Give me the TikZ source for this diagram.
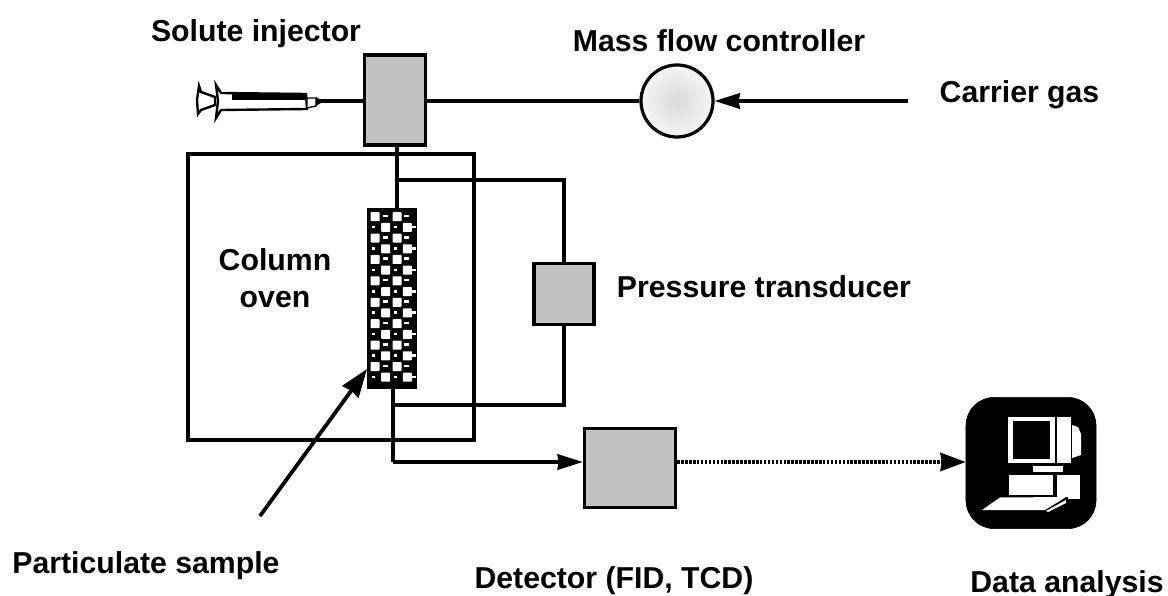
\documentclass[tikz,border=0pt]{standalone}
\usepackage{fontspec}
\setmainfont{Liberation Sans}
\usetikzlibrary{arrows.meta}
\tikzset{
    unit/.style={draw=black, line width=2.3pt, fill=gray!48, inner sep=0pt},
    pipe/.style={black, line width=2.3pt},
    tag/.style={font=\fontsize{21.5}{26.5}\selectfont\bfseries, align=center, inner sep=0pt, anchor=base},
    flow/.style={pipe, -{Stealth[length=18pt, width=11pt, inset=1pt]}}
}
\begin{document}
\begin{tikzpicture}[x=0.025cm, y=-0.025cm]
    \useasboundingbox (0, 0) rectangle (1168, 596);
    \fill[white] (0, 0) rectangle (1168, 596);

    % Column oven
    \node[draw=black, line width=2.3pt, minimum width=7.15cm, minimum height=7.15cm, inner sep=0pt] (oven) at (331, 297) {};

    % Main units
    \node[unit, minimum width=1.53cm, minimum height=2.25cm] (injector) at (395, 100) {};
    \node[unit, circle, inner color=gray!30, outer color=gray!8, minimum size=1.8cm] (controller) at (677, 101) {};
    \node[unit, minimum width=1.5cm, minimum height=1.53cm] (transducer) at (564, 294) {};
    \node[unit, minimum width=2.28cm, minimum height=1.98cm] (detector) at (630, 468) {};

    % Packed column
    \node[fill=black, minimum width=1.25cm, minimum height=4.5cm, inner sep=0pt] (column) at (392, 298.5) {};
    \foreach \row in {0,2,...,14} {
        \foreach \xa in {375, 397} {
            \fill[white, rounded corners=0.5pt] (\xa-4.5, 216.7+\row*10.7-4.5) rectangle (\xa+4.5, 216.7+\row*10.7+4.5);
        }
        \foreach \xb in {385.7, 406} {
            \fill[white] (\xb-2.5, 216.7+\row*10.7-2) rectangle (\xb+2.5, 216.7+\row*10.7+0.5);
        }
    }
    \foreach \row in {1,3,...,15} {
        \foreach \xa in {385.7, 407.3} {
            \fill[white, rounded corners=0.5pt] (\xa-4.5, 216.7+\row*10.7-4.5) rectangle (\xa+4.5, 216.7+\row*10.7+4.5);
        }
        \foreach \xb in {373.5, 395.5, 414} {
            \fill[white] (\xb-1.8, 216.7+\row*10.7-1.5) rectangle (\xb+1.8, 216.7+\row*10.7+1);
        }
    }

    % Syringe
    \draw[black, line width=1.7pt, fill=white] (199, 86) -- (201, 92) -- (215, 97) -- (215, 105) -- (201, 110) -- (198, 114) -- (197, 100) -- cycle;
    \draw[black, line width=1.7pt, fill=white] (216, 85) -- (221, 93) -- (306, 94) -- (307, 109) -- (221, 110) -- (216, 118) -- (218, 101) -- cycle;
    \fill[black] (232, 93) rectangle (306, 100);
    \draw[black, line width=1pt, fill=white] (307, 98) -- (316, 98) -- (316, 106) -- (307, 108) -- cycle;
    \coordinate (needle) at (320, 101);
    \fill[black] (316, 97) -- (321, 100) -- (321, 103) -- (316, 106) -- cycle;

    % Computer
    \node[draw=black, fill=black, rounded corners=20pt, minimum width=3.25cm, minimum height=3.28cm, inner sep=0pt] (computer) at (1031, 463) {};
    \fill[white] (1008, 417) rectangle (1055, 463);
    \fill[black] (1013, 421) rectangle (1050, 459);
    \fill[white] (1057, 417) rectangle (1071, 463);
    \fill[white] (1072, 425) -- (1078, 427) -- (1081, 434) -- (1081, 455) -- (1072, 458) -- cycle;
    \fill[white] (1033, 466) rectangle (1063, 472);
    \fill[white] (1009, 475) rectangle (1053, 495);
    \fill[white] (1057, 475) rectangle (1080, 499);
    \fill[black] (1055, 497) rectangle (1068, 501);
    \fill[white] (982, 510) -- (1000, 497.5) -- (1066, 497) -- (1045, 510) -- cycle;
    \fill[white] (1046, 511) -- (1066, 500) -- (1066, 503) -- (1048, 512) -- cycle;

    % Free ends and bends of the pipes
    \coordinate (gasin) at (908, 101);
    \coordinate (branch) at (397, 180);
    \coordinate (rejoin) at (393, 405);
    \coordinate (bend) at (393, 462);
    \coordinate (samplefoot) at (260, 516);
    \coordinate (sampletip) at (367, 369);

    % Pipes
    \draw[pipe] (needle) -- (needle -| injector.west);
    \draw[pipe] (injector.east |- controller) -- (controller.west);
    \draw[flow] (gasin) -- (controller.east);
    \draw[pipe] (branch |- injector.south) -- (branch |- column.north);
    \draw[pipe] (branch) -| (transducer.north);
    \draw[pipe] (transducer.south) |- (rejoin);
    \draw[pipe] (rejoin |- column.south) -- (bend);
    \draw[flow] (bend) -- (detector.west |- bend);
    \draw[line width=2.3pt, dash pattern=on 1.8pt off 1pt, -{Stealth[length=18pt, width=13pt, inset=1pt]}] (detector.east |- bend) -- (computer.west |- bend);
    \draw[black, line width=2.7pt, -{Stealth[length=20pt, width=14pt, inset=1pt]}] (samplefoot) -- (sampletip);

    % Labels
    \node[tag] (injectorlabel) at (256, 42) {Solute injector};
    \node[tag] (controllerlabel) at (719, 52) {Mass flow controller};
    \node[tag] (gaslabel) at (1019.5, 103) {Carrier gas};
    \node[tag] (ovenlabel) at (275, 308) {Column\\oven};
    \node[tag] (transducerlabel) at (764, 298) {Pressure transducer};
    \node[tag] (samplelabel) at (146, 573) {Particulate sample};
    \node[tag] (detectorlabel) at (614, 588) {Detector (FID, TCD)};
    \node[tag] (analysislabel) at (1067, 592) {Data analysis};
\end{tikzpicture}
\end{document}
